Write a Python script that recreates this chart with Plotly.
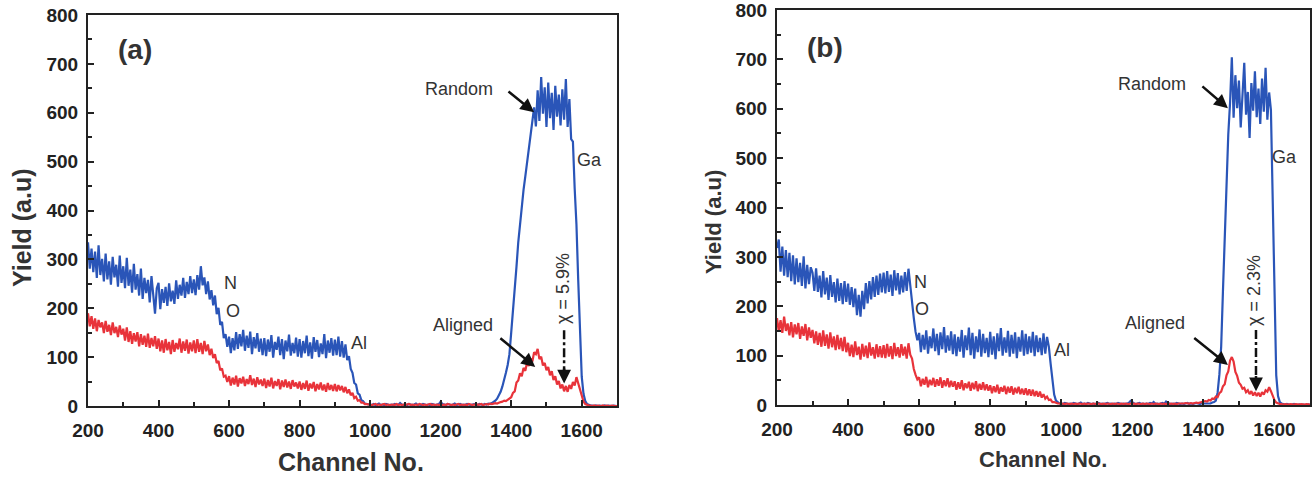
import plotly.graph_objects as go

# RBS spectra: channel numbers shared by every series (step of 5 channels)
channels = list(range(200, 1705, 5))

# ---- Sample (a) ----
random_a = [
    335, 281, 322, 274, 316, 262, 329, 268, 301, 255, 312, 259, 296, 248, 305, 263, 289, 244, 308, 252,
    286, 241, 303, 246, 279, 232, 291, 238, 270, 226, 281, 219, 262, 231, 258, 212, 266, 222, 189, 241,
    252, 198, 239, 211, 244, 205, 251, 214, 236, 209, 257, 219, 248, 226, 262, 221, 254, 229, 266, 231,
    259, 227, 268, 238, 286, 247, 263, 229, 255, 218, 237, 206, 226, 188, 201, 166, 172, 139, 147, 121,
    142, 108, 139, 114, 151, 117, 147, 122, 156, 113, 144, 119, 152, 106, 141, 118, 149, 111, 138, 104,
    139, 102, 136, 111, 145, 99, 131, 115, 142, 104, 137, 96, 134, 112, 146, 103, 129, 108, 140, 101,
    137, 99, 133, 108, 144, 102, 130, 97, 141, 111, 135, 100, 128, 106, 147, 98, 134, 109, 139, 103,
    136, 104, 142, 101, 133, 99, 126, 94, 102, 76, 68, 47, 44, 26, 23, 12, 10, 5, 4, 3,
    3, 2, 4, 2, 3, 5, 2, 3, 2, 4, 3, 2, 3, 2, 4, 3, 2, 6, 3, 2,
    3, 2, 4, 3, 2, 3, 5, 2, 3, 2, 4, 3, 2, 3, 2, 4, 3, 2, 3, 4,
    9, 4, 3, 2, 4, 3, 2, 3, 5, 2, 3, 4, 2, 3, 2, 4, 3, 2, 3, 4,
    3, 2, 4, 3, 2, 4, 3, 5, 4, 6, 8, 11, 15, 21, 29, 40, 52, 68, 84, 106,
    150, 190, 235, 285, 335, 375, 410, 442, 470, 500, 528, 552, 578, 611, 572, 646, 583, 673, 598, 652,
    571, 662, 589, 641, 565, 655, 592, 637, 574, 648, 586, 669, 571, 628, 546, 541, 445, 372, 258, 152,
    60, 25, 10, 4, 2, 1, 1, 0, 1, 0, 1, 0, 0, 1, 0, 1, 0, 0, 1, 0, 0,
]
aligned_a = [
    190, 163, 184, 158, 179, 153, 176, 161, 171, 149, 174, 152, 166, 145, 171, 149, 162, 141, 165, 146,
    158, 134, 161, 131, 153, 127, 149, 132, 151, 122, 147, 125, 144, 121, 148, 119, 139, 122, 143, 117,
    138, 112, 134, 109, 137, 114, 131, 106, 135, 111, 129, 116, 138, 109, 132, 113, 136, 107, 130, 112,
    134, 108, 137, 111, 129, 106, 133, 112, 126, 104, 117, 98, 106, 88, 92, 73, 77, 60, 62, 49,
    61, 42, 58, 44, 62, 40, 57, 46, 60, 41, 55, 45, 63, 43, 56, 39, 59, 44, 54, 41,
    56, 37, 53, 40, 58, 36, 51, 41, 55, 34, 52, 39, 54, 38, 50, 35, 53, 40, 48, 36,
    50, 33, 47, 35, 52, 31, 46, 36, 49, 30, 45, 34, 48, 32, 44, 29, 47, 33, 43, 31,
    45, 30, 43, 32, 41, 28, 39, 26, 34, 22, 27, 16, 19, 11, 12, 7, 7, 4, 4, 3,
    3, 2, 3, 4, 2, 3, 2, 3, 4, 2, 3, 2, 3, 3, 2, 4, 2, 3, 2, 3,
    2, 3, 4, 2, 3, 2, 3, 2, 4, 3, 2, 3, 2, 3, 4, 2, 3, 2, 3, 2,
    3, 2, 3, 2, 4, 3, 2, 3, 2, 3, 4, 2, 3, 2, 3, 2, 4, 3, 2, 3,
    3, 2, 3, 4, 2, 3, 4, 3, 5, 4, 5, 6, 5, 7, 8, 9, 11, 10, 13, 15,
    18, 27, 30, 48, 52, 67, 61, 78, 72, 89, 82, 97, 91, 110, 106, 117, 96, 101, 83, 88,
    73, 80, 63, 71, 53, 61, 44, 51, 36, 44, 30, 41, 29, 43, 35, 49, 42, 59, 47, 36,
    20, 9, 4, 2, 1, 1, 0, 1, 0, 1, 0, 0, 1, 0, 1, 0, 0, 1, 0, 0, 0,
]

# ---- Sample (b) ----
random_b = [
    318, 335, 270, 321, 262, 314, 259, 308, 251, 303, 244, 297, 249, 288, 241, 301, 236, 284, 245, 279,
    268, 231, 277, 229, 262, 218, 271, 224, 258, 213, 263, 219, 249, 208, 256, 211, 247, 204, 251, 209,
    246, 203, 239, 198, 236, 182, 223, 179, 231, 194, 247, 206, 251, 214, 259, 219, 262, 223, 266, 228,
    268, 226, 271, 229, 264, 221, 273, 232, 267, 224, 262, 228, 269, 231, 276, 239, 212, 176, 148, 131,
    146, 107, 142, 112, 151, 104, 139, 115, 155, 109, 144, 101, 147, 113, 158, 106, 141, 110, 149, 103,
    143, 99, 138, 108, 152, 96, 141, 111, 157, 101, 146, 94, 139, 107, 153, 98, 144, 105, 136, 97,
    148, 102, 139, 93, 145, 109, 156, 100, 137, 106, 150, 98, 142, 104, 147, 95, 138, 108, 151, 100,
    144, 103, 139, 106, 148, 99, 141, 107, 136, 101, 145, 104, 138, 118, 84, 46, 21, 9, 5, 3,
    3, 2, 4, 3, 2, 3, 2, 4, 3, 2, 3, 5, 2, 3, 2, 4, 3, 2, 3, 2,
    3, 4, 2, 3, 2, 3, 4, 2, 3, 2, 3, 2, 4, 3, 2, 3, 2, 3, 4, 8,
    5, 3, 2, 3, 4, 2, 3, 2, 3, 2, 4, 3, 6, 2, 3, 2, 3, 4, 2, 7,
    4, 3, 2, 3, 2, 4, 3, 2, 3, 2, 3, 4, 2, 3, 2, 3, 4, 3, 2, 3,
    3, 4, 3, 4, 3, 5, 6, 9, 25, 62, 118, 230, 345, 455, 548, 612, 704, 582, 668, 601,
    657, 562, 641, 693, 588, 634, 541, 652, 596, 676, 583, 641, 569, 661, 594, 683, 578, 633, 598, 440,
    230, 60, 18, 6, 3, 2, 1, 2, 1, 0, 1, 2, 1, 0, 1, 0, 1, 0, 0, 1, 0,
]
aligned_b = [
    176, 149, 172, 146, 179, 150, 165, 141, 168, 137, 163, 143, 166, 134, 159, 140, 164, 131, 157, 136,
    152, 125, 149, 122, 146, 118, 151, 120, 143, 114, 147, 117, 139, 111, 142, 113, 136, 109, 138, 107,
    126, 99, 122, 97, 129, 101, 118, 92, 124, 98, 120, 95, 127, 100, 117, 94, 123, 97, 119, 96,
    121, 95, 124, 98, 119, 93, 126, 99, 117, 96, 123, 100, 118, 94, 125, 102, 94, 73, 61, 52,
    56, 38, 53, 41, 57, 36, 51, 40, 55, 37, 52, 39, 56, 35, 50, 38, 54, 36, 49, 37,
    48, 31, 46, 33, 50, 30, 44, 34, 47, 29, 45, 32, 48, 28, 43, 31, 46, 30, 42, 29,
    40, 24, 38, 26, 41, 23, 36, 27, 39, 22, 37, 25, 38, 21, 35, 24, 37, 22, 33, 21,
    34, 20, 32, 19, 31, 18, 28, 17, 27, 15, 22, 13, 17, 10, 11, 6, 6, 4, 3, 3,
    2, 3, 2, 3, 2, 2, 3, 2, 3, 2, 3, 2, 2, 3, 2, 3, 2, 2, 3, 2,
    2, 3, 2, 2, 3, 2, 3, 2, 2, 3, 2, 3, 2, 2, 3, 2, 3, 2, 2, 3,
    2, 3, 2, 3, 2, 2, 3, 2, 3, 2, 2, 3, 2, 3, 2, 2, 3, 2, 3, 2,
    3, 2, 3, 2, 3, 2, 3, 3, 2, 3, 4, 3, 3, 4, 3, 4, 5, 4, 5, 6,
    6, 8, 7, 10, 9, 13, 12, 17, 16, 24, 27, 38, 42, 60, 68, 90, 97, 88, 67, 59,
    45, 41, 33, 35, 26, 30, 22, 28, 19, 26, 18, 25, 17, 26, 21, 30, 27, 36, 28, 17,
    10, 5, 3, 2, 2, 1, 2, 1, 1, 2, 1, 1, 2, 1, 1, 2, 1, 1, 2, 1, 1,
]

x_ticks = [200, 400, 600, 800, 1000, 1200, 1400, 1600]
y_ticks = [0, 100, 200, 300, 400, 500, 600, 700, 800]

BLUE = "#2a55b8"
RED = "#e8333a"
INK = "#222222"
FONT = "Liberation Sans, Arial, sans-serif"

fig = go.Figure()

for xa, ya, rnd, aln in (("x", "y", random_a, aligned_a), ("x2", "y2", random_b, aligned_b)):
    fig.add_trace(go.Scatter(x=channels, y=rnd, mode="lines", xaxis=xa, yaxis=ya,
                             line=dict(color=BLUE, width=2.2), showlegend=False))
    fig.add_trace(go.Scatter(x=channels, y=aln, mode="lines", xaxis=xa, yaxis=ya,
                             line=dict(color=RED, width=2.2), showlegend=False))

W, H = 1315, 478


def xaxis_style(left_px, right_px):
    return dict(
        domain=[left_px / W, right_px / W], range=[200, 1700], automargin=False,
        tickvals=x_ticks, ticks="inside", ticklen=6, tickwidth=2, tickcolor=INK,
        minor=dict(dtick=100, tick0=200, ticks="inside", ticklen=4, tickwidth=2, tickcolor=INK),
        showline=True, linewidth=2, linecolor=INK, mirror=True,
        showgrid=False, zeroline=False, ticklabelstandoff=6, ticklabeloverflow="allow",
        tickfont=dict(family=FONT, size=19, color=INK, weight="bold"),
    )


def yaxis_style(top_px, bottom_px):
    return dict(
        domain=[1 - bottom_px / H, 1 - top_px / H], range=[0, 800], automargin=False,
        tickvals=y_ticks, ticks="inside", ticklen=6, tickwidth=2, tickcolor=INK,
        minor=dict(dtick=50, tick0=0, ticks="inside", ticklen=4, tickwidth=2, tickcolor=INK),
        showline=True, linewidth=2, linecolor=INK, mirror=True,
        showgrid=False, zeroline=False, ticklabelstandoff=4, ticklabeloverflow="allow",
        tickfont=dict(family=FONT, size=19, color=INK, weight="bold"),
    )


fig.update_layout(
    width=W, height=H,
    margin=dict(l=0, r=0, t=0, b=0),
    paper_bgcolor="white", plot_bgcolor="white",
    xaxis=dict(xaxis_style(88, 617), anchor="y"),
    yaxis=dict(yaxis_style(15, 406), anchor="x"),
    xaxis2=dict(xaxis_style(777, 1310), anchor="y2"),
    yaxis2=dict(yaxis_style(10, 405), anchor="x2"),
)

ann = []


def label(text, x, y, xr, yr, size=18, bold=False, angle=0):
    ann.append(dict(text=text, x=x, y=y, xref=xr, yref=yr, showarrow=False,
                    textangle=angle, xanchor="center", yanchor="middle",
                    font=dict(family=FONT, size=size, color="#333333",
                              weight="bold" if bold else "normal")))


def arrow(x, y, ax, ay, xr, yr):
    ann.append(dict(text="", x=x, y=y, ax=ax, ay=ay, xref=xr, yref=yr, axref=xr, ayref=yr,
                    showarrow=True, arrowhead=2, arrowsize=1.1, arrowwidth=2.5,
                    arrowcolor="#111111"))


# Axis titles
label("Yield (a.u)", 22 / W, 1 - 228 / H, "paper", "paper", size=25, bold=True, angle=-90)
label("Yield (a.u)", 714 / W, 1 - 222 / H, "paper", "paper", size=22, bold=True, angle=-90)
label("Channel No.", 351 / W, 1 - 462 / H, "paper", "paper", size=25, bold=True)
label("Channel No.", 1043 / W, 1 - 459 / H, "paper", "paper", size=22, bold=True)

# Panel (a) annotations
label("(a)", 334, 730, "x", "y", size=28, bold=True)
label("Random", 1251, 648, "x", "y")
label("Ga", 1622, 503, "x", "y")
label("N", 605, 251, "x", "y")
label("O", 610, 194, "x", "y")
label("Al", 969, 129, "x", "y")
label("Aligned", 1263, 166, "x", "y")
label("χ = 5.9%", 1545, 240, "x", "y", angle=-90)
arrow(1465, 601, 1388, 646, "x", "y")
arrow(1468, 80, 1365, 141, "x", "y")
arrow(1550, 46, 1550, 80, "x", "y")

# Panel (b) annotations
label("(b)", 336, 725, "x2", "y2", size=28, bold=True)
label("Random", 1254, 650, "x2", "y2")
label("Ga", 1628, 502, "x2", "y2")
label("N", 605, 249, "x2", "y2")
label("O", 608, 194, "x2", "y2")
label("Al", 1002, 111, "x2", "y2")
label("Aligned", 1265, 166, "x2", "y2")
label("χ = 2.3%", 1544, 232, "x2", "y2", angle=-90)
arrow(1469, 601, 1393, 648, "x2", "y2")
arrow(1469, 81, 1370, 138, "x2", "y2")
arrow(1548, 28, 1548, 62, "x2", "y2")

fig.update_layout(annotations=ann)

# Dash-dot shafts of the χ arrows
fig.add_shape(type="line", x0=1550, x1=1550, y0=155, y1=70, xref="x", yref="y",
              line=dict(color="#111111", width=2.5, dash="dashdot"))
fig.add_shape(type="line", x0=1548, x1=1548, y0=152, y1=52, xref="x2", yref="y2",
              line=dict(color="#111111", width=2.5, dash="dashdot"))

fig.write_html("out.html")
